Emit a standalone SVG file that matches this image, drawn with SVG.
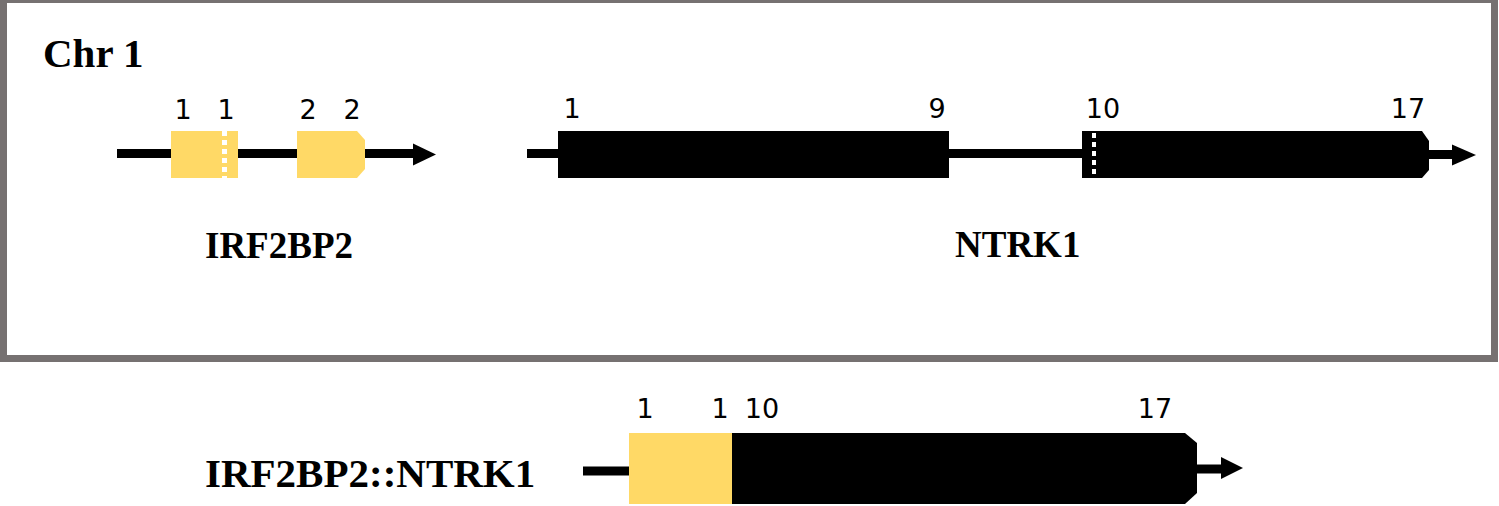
<svg xmlns="http://www.w3.org/2000/svg" width="1499" height="506" viewBox="0 0 1499 506">
<defs>
<style>
.num{font-family:"DejaVu Sans",sans-serif;font-size:27px;fill:#000;text-anchor:middle}
.gene{font-family:"Liberation Serif",serif;font-weight:bold;fill:#000}
.line{stroke:#000;stroke-width:9;fill:none}
.yel{fill:#FFD966}
.blk{fill:#000}
.dash{stroke:#fff;stroke-width:5;stroke-dasharray:5 4;fill:none}
</style>
</defs>
<rect x="0" y="0" width="1499" height="506" fill="#fff"/>
<g id="frame">
<rect x="3.5" y="-0.5" width="1491" height="359" fill="none" stroke="#767171" stroke-width="7"/>
<text class="gene" x="43" y="67" font-size="41">Chr 1</text>
</g>
<g id="connectors">
<line class="line" x1="117" y1="153.5" x2="171" y2="153.5"/>
<line class="line" x1="238" y1="153.5" x2="297" y2="153.5"/>
<line class="line" x1="365" y1="153.5" x2="415" y2="153.5"/>
<polygon class="blk" points="413,143.5 436,154.5 413,165.5"/>
<line class="line" x1="527" y1="153.5" x2="558" y2="153.5"/>
<line class="line" x1="949" y1="153.5" x2="1082" y2="153.5"/>
<line class="line" x1="1429" y1="154.5" x2="1455" y2="154.5"/>
<polygon class="blk" points="1452,144.5 1476,155 1452,165.5"/>
<line class="line" x1="583" y1="471" x2="629" y2="471"/>
<line class="line" x1="1197" y1="469" x2="1223" y2="469"/>
<polygon class="blk" points="1221,457 1243,468 1221,479"/>
</g>
<g id="IRF2BP2">
<rect class="yel" x="171" y="131" width="67" height="47"/>
<line class="dash" x1="224.5" y1="131" x2="224.5" y2="178"/>
<polygon class="yel" points="297,131 357,131 365,140 365,169 357,178 297,178"/>
<text class="num" x="183" y="119">1</text>
<text class="num" x="226" y="119">1</text>
<text class="num" x="308" y="119">2</text>
<text class="num" x="352" y="119">2</text>
<text class="gene" x="205" y="258" font-size="37">IRF2BP2</text>
</g>
<g id="NTRK1">
<rect class="blk" x="558" y="131" width="391" height="47"/>
<polygon class="blk" points="1082,131 1422,131 1429,141 1429,170 1422,178 1082,178"/>
<line stroke="#fff" stroke-width="4" stroke-dasharray="5 4" x1="1094" y1="133" x2="1094" y2="178"/>
<text class="num" x="572" y="118">1</text>
<text class="num" x="937" y="118">9</text>
<text class="num" x="1103" y="118">10</text>
<text class="num" x="1408" y="118">17</text>
<text class="gene" x="955" y="257" font-size="37">NTRK1</text>
</g>
<g id="fusion">
<rect class="yel" x="629" y="433" width="104" height="71"/>
<polygon class="blk" points="732,433 1185,433 1197,443 1197,493 1185,504 732,504"/>
<text class="num" x="645" y="418">1</text>
<text class="num" x="720" y="418">1</text>
<text class="num" x="762" y="418">10</text>
<text class="num" x="1155" y="418">17</text>
<text class="gene" x="205" y="487" font-size="41">IRF2BP2::NTRK1</text>
</g>
</svg>
